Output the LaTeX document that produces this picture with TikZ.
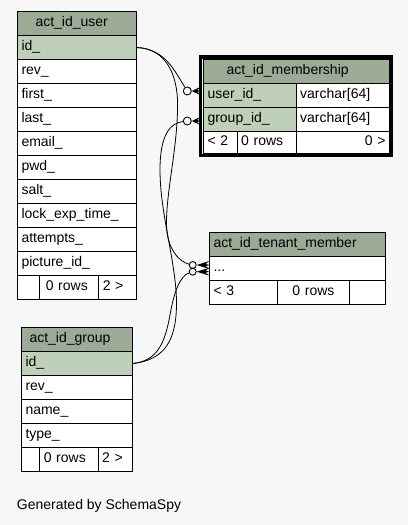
\documentclass[tikz,border=0pt]{standalone}
\usepackage{fontspec}
\setmainfont{Liberation Sans}
\usetikzlibrary{calc}

\definecolor{bg}{HTML}{F7F7F7}
\definecolor{headgreen}{HTML}{9BAB96}
\definecolor{keygreen}{HTML}{BED1B8}

\newcommand\tabfont{\fontsize{14}{16}\selectfont}

% crow's foot: narrow end at #1, prongs open towards the table
\newcommand\crowshort[1]{\fill (#1) -- ++(8.5,-4) -- ++(-3,3) -- ++(3,1) -- ++(-3,1) -- ++(3,3) -- cycle;}
\newcommand\crowlong[1]{\fill (#1) -- ++(12.9,-4) -- ++(-4,3) -- ++(4,1) -- ++(-4,1) -- ++(4,3) -- cycle;}

\tikzset{
  cell/.style={draw=black, line width=1pt, fill=white, anchor=north west,
    inner xsep=4pt, inner ysep=0pt, minimum height=24pt,
    text height=10pt, text depth=4pt, align=left, font=\tabfont},
  headcell/.style={cell, fill=headgreen},
  keycell/.style={cell, fill=keygreen},
  link/.style={draw=black, line width=0.8pt},
  odot/.style={circle, draw=black, line width=0.9pt, inner sep=0pt, minimum size=8pt},
}

\begin{document}
\begin{tikzpicture}[x=1pt, y=-1pt]
\useasboundingbox (0,0) rectangle (408,525);
\fill[bg] (0,0) rectangle (408,525);

% ---------- act_id_user ----------
\node[headcell, text width=110.5pt] (user) at (17,11) {\hspace*{14pt}act\_id\_user};
\node[keycell, text width=110.5pt] (user-id) at (17,35) {id\_};
\node[cell, text width=110.5pt] (user-rev) at (17,59) {rev\_};
\node[cell, text width=110.5pt] (user-first) at (17,83) {first\_};
\node[cell, text width=110.5pt] (user-last) at (17,107) {last\_};
\node[cell, text width=110.5pt] (user-email) at (17,131) {email\_};
\node[cell, text width=110.5pt] (user-pwd) at (17,155) {pwd\_};
\node[cell, text width=110.5pt] (user-salt) at (17,179) {salt\_};
\node[cell, text width=110.5pt] (user-lock) at (17,203) {lock\_exp\_time\_};
\node[cell, text width=110.5pt] (user-attempts) at (17,227) {attempts\_};
\node[cell, text width=110.5pt] (user-picture) at (17,251) {picture\_id\_};
\node[cell, text width=14.3pt] (user-f1) at (17,275) {};
\node[cell, text width=51pt] (user-f2) at (39.3,275) {\hspace*{2pt}0 rows};
\node[cell, text width=29.2pt] (user-f3) at (98.3,275) {2 >};

% ---------- act_id_group ----------
\node[headcell, text width=102.7pt] (group) at (21,327) {\hspace*{4pt}act\_id\_group};
\node[keycell, text width=102.7pt] (group-id) at (21,351) {id\_};
\node[cell, text width=102.7pt] (group-rev) at (21,375) {rev\_};
\node[cell, text width=102.7pt] (group-name) at (21,399) {name\_};
\node[cell, text width=102.7pt] (group-type) at (21,423) {type\_};
\node[cell, text width=10.3pt] (group-f1) at (21,447) {};
\node[cell, text width=50.4pt] (group-f2) at (39.3,447) {0 rows};
\node[cell, text width=26pt] (group-f3) at (97.7,447) {2 >};

% ---------- act_id_membership ----------
\node[headcell, text width=178pt] (membership) at (203,59) {\hspace*{19pt}act\_id\_membership};
\node[keycell, text width=84.7pt] (mem-user) at (203,83) {user\_id\_};
\node[cell, text width=85.3pt] (mem-user-type) at (295.7,83) {varchar[64]};
\node[keycell, text width=84.7pt] (mem-group) at (203,107) {group\_id\_};
\node[cell, text width=85.3pt] (mem-group-type) at (295.7,107) {varchar[64]};
\node[cell, text width=25.7pt, minimum height=22pt] (mem-f1) at (203,131) {< 2};
\node[cell, text width=51pt, minimum height=22pt] (mem-f2) at (236.7,131) {0 rows};
\node[cell, text width=85.3pt, minimum height=22pt, align=right] (mem-f3) at (295.7,131) {0 >\hspace*{5pt}};
\draw[line width=3.5pt] (200.7,56.75) rectangle (391.3,155.3);

% ---------- act_id_tenant_member ----------
\node[headcell, text width=168pt] (tenant) at (209,232) {act\_id\_tenant\_member};
\node[cell, text width=168pt] (tenant-row) at (209,256) {...};
\node[cell, text width=59.7pt] (tenant-f1) at (209,280) {< 3};
\node[cell, text width=64.6pt, align=center] (tenant-f2) at (276.7,280) {0 rows};
\node[cell, text width=27.7pt] (tenant-f3) at (349.3,280) {};

% ---------- relationship ends ----------
\node[odot] (m-user) at (187.3,91) {};
\node[odot] (m-group) at (187.3,121) {};
\node[odot, minimum size=7pt] (t-user) at (192.7,265) {};
\node[odot, minimum size=7pt] (t-group) at (192.7,271.7) {};

% ---------- relationships ----------
\draw[link] (user-id.east) .. controls (166,49) and (175,72) .. (m-user);
\draw[link] (user-id.east) .. controls (160,48) and (176,66) .. (177.5,100)
  .. controls (178.5,145) and (166,190) .. (166.5,225)
  .. controls (167,250) and (180,262) .. (t-user);
\draw[link] (group-id.east) .. controls (165,360) and (176,340) .. (176.5,305)
  .. controls (177,265) and (160,215) .. (160,170)
  .. controls (160,135) and (170,123) .. (m-group);
\draw[link] (group-id.east) .. controls (158,361) and (165,342) .. (170,315)
  .. controls (174,292) and (180,276) .. (t-group);

\crowshort{m-user.east}
\crowshort{m-group.east}
\crowlong{t-user.east}
\crowlong{t-group.east}

% ---------- footer ----------
\node[anchor=base west, font=\fontsize{14}{16}\selectfont, inner sep=0pt] (credit) at (16.7,509) {Generated by SchemaSpy};
\end{tikzpicture}
\end{document}
